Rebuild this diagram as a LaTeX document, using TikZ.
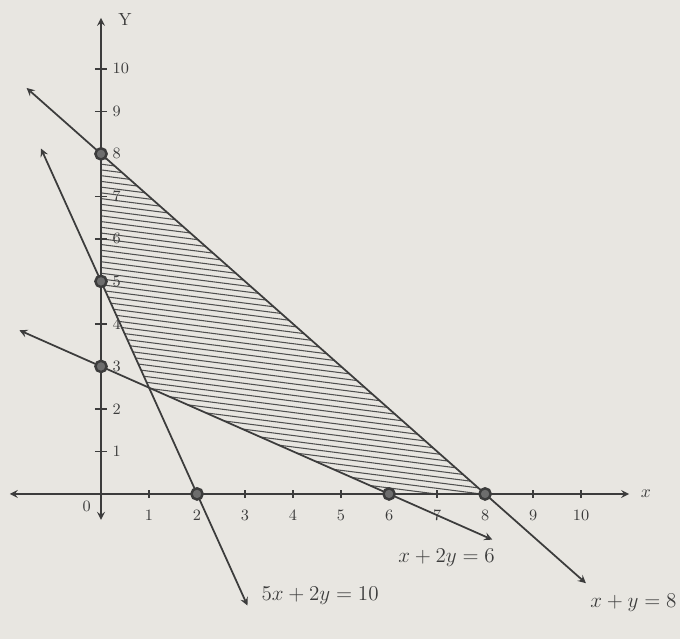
\documentclass[tikz,border=0pt]{standalone}

\definecolor{papier}{RGB}{232,230,225}
\definecolor{inkt}{RGB}{60,60,60}
\definecolor{arcering}{RGB}{80,80,80}

\begin{document}
\begin{tikzpicture}[>=stealth, x=0.96cm, y=0.85cm,
  lijn/.style={inkt, line width=1pt},
  streep/.style={inkt, line width=0.8pt},
  punt/.style={draw=inkt, fill=inkt!75, line width=1.4pt},
  getal/.style={inkt, font=\small, inner sep=1pt},
  vgl/.style={inkt, anchor=west, inner sep=1pt, font=\large}]

  % -------------------------
  % Papier en kader
  % -------------------------
  \fill[papier] (-2.104,-3.41) rectangle (12.06,11.62);
  \useasboundingbox (-2.104,-3.41) rectangle (12.06,11.62);

  % -------------------------
  % Toegelaten gebied (gearceerd)
  % -------------------------
  \begin{scope}
    \clip (0,8) -- (0,5) -- (1,2.5) -- (6,0) -- (8,0) -- cycle;
    \foreach \k in {0,...,80}
      \draw[arcering, line width=0.6pt] (-0.5,{\k*0.135}) -- ++(9,-1.3);
  \end{scope}

  % -------------------------
  % Assen
  % -------------------------
  \draw[<->, lijn] (-1.9,0) -- (11.0,0);
  \draw[<->, lijn] (0,-0.61) -- (0,11.2);

  \node[getal, font=\normalsize] (asx) at (11.35,0) {$x$};
  \node[getal, font=\normalsize] (asy) at (0.5,11.15) {Y};
  \node[getal] (nul) at (-0.3,-0.3) {0};

  \foreach \i in {1,...,10} {
    \draw[streep] (\i,-0.1) -- (\i,0.1);
    \node[getal] (gx\i) at (\i,-0.5) {\i};
    \draw[streep] (-0.13,\i) -- (0.13,\i);
    \node[getal, anchor=west] (gy\i) at (0.2,\i) {\i};
  }

  % -------------------------
  % Randlijnen
  % -------------------------
  \draw[->, lijn] (0,8) -- (-1.55,9.55);
  \draw[->, lijn] (0,8) -- (10.1,-2.1);

  \draw[->, lijn] (0,5) -- (-1.25,8.125);
  \draw[->, lijn] (0,5) -- (3.05,-2.625);

  \draw[->, lijn] (0,3) -- (-1.7,3.85);
  \draw[->, lijn] (0,3) -- (8.15,-1.075);

  \node[vgl] (vglA) at (10.15,-2.55) {$x+y=8$};
  \node[vgl] (vglB) at (3.3,-2.4) {$5x+2y=10$};
  \node[vgl] (vglC) at (6.15,-1.5) {$x+2y=6$};

  % -------------------------
  % Snijpunten met de assen
  % -------------------------
  \foreach \p in {(0,8),(0,5),(0,3),(2,0),(6,0),(8,0)}
    \draw[punt] \p circle[radius=3.2pt];

\end{tikzpicture}
\end{document}
